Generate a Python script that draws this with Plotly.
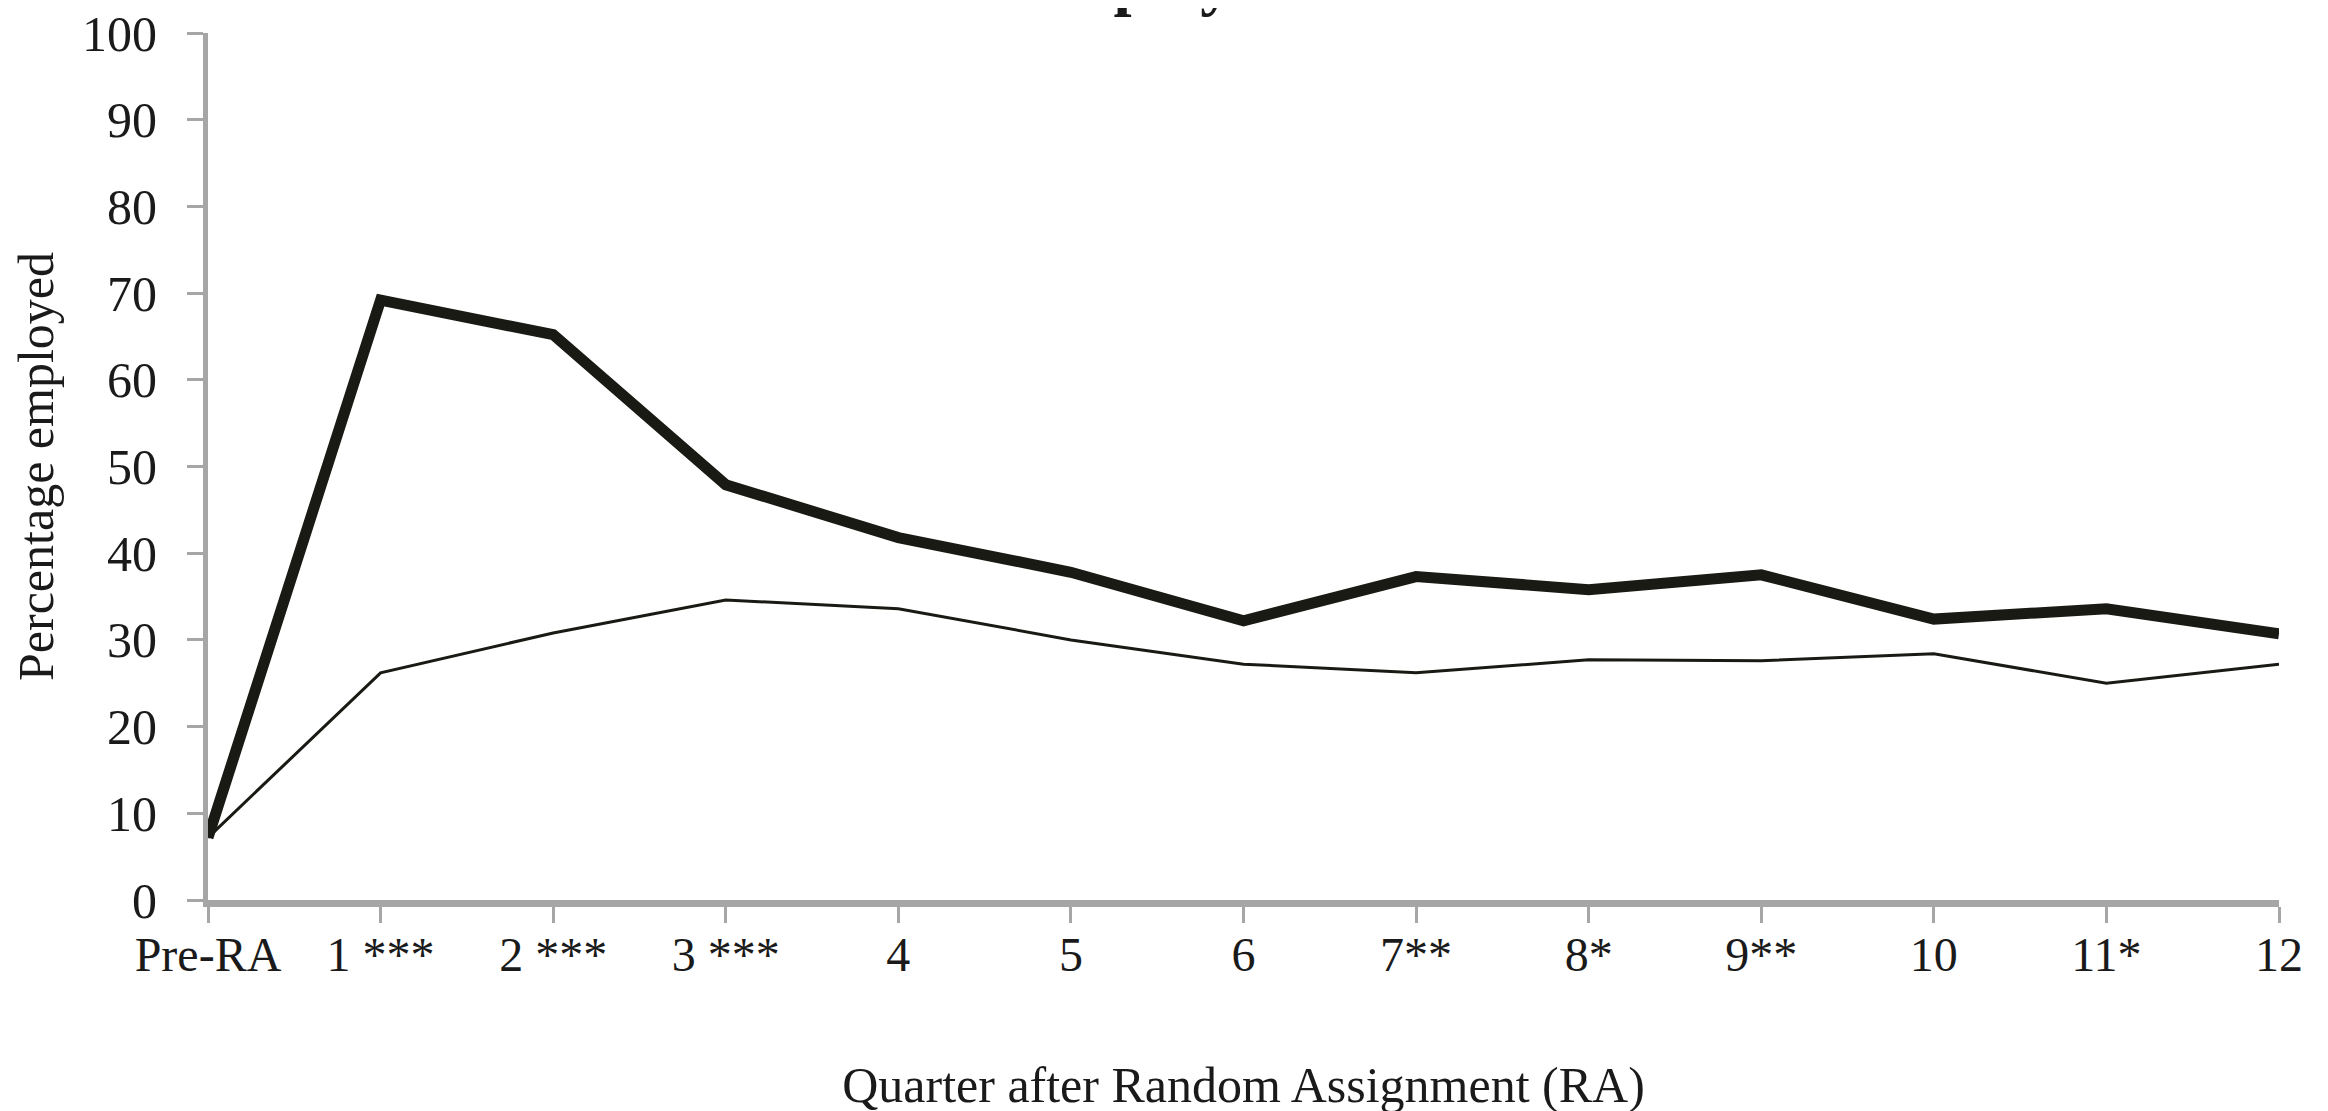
import plotly.graph_objects as go

quarters = ["Pre-RA", "1 ***", "2 ***", "3 ***", "4", "5", "6", "7**", "8*", "9**", "10", "11*", "12"]
program_group = [7.2, 69.2, 65.2, 47.9, 41.8, 37.8, 32.2, 37.3, 35.8, 37.5, 32.4, 33.6, 30.7]
control_group = [7.2, 26.2, 30.8, 34.6, 33.6, 30.0, 27.2, 26.2, 27.7, 27.6, 28.4, 25.0, 27.2]
y_ticks = [0, 10, 20, 30, 40, 50, 60, 70, 80, 90, 100]

xpos = list(range(len(quarters)))
line_color = "#1a1a14"
axis_gray = "#a6a6a6"
font_family = "Liberation Serif, Times New Roman, serif"

fig = go.Figure()
fig.add_trace(go.Scatter(x=xpos, y=control_group, mode="lines",
                         line=dict(color=line_color, width=3), name="Control group",
                         showlegend=False))
fig.add_trace(go.Scatter(x=xpos, y=program_group, mode="lines",
                         line=dict(color=line_color, width=11), name="Program group",
                         showlegend=False))

fig.update_layout(
    width=2328, height=1111,
    margin=dict(l=200, r=57, t=25, b=219, autoexpand=False),
    paper_bgcolor="white", plot_bgcolor="white",
    font=dict(family=font_family, size=48, color="#1a1a1a"),
    showlegend=False,
)

fig.update_xaxes(
    range=[0, 12], tickmode="array", tickvals=xpos, ticktext=quarters,
    showgrid=False, zeroline=False, automargin=False,
    showline=True, linecolor=axis_gray, linewidth=7, layer="below traces",
    ticks="outside", ticklen=16, tickwidth=3, tickcolor=axis_gray,
    ticklabelstandoff=-10, ticklabeloverflow="allow",
    tickfont=dict(size=48, family=font_family),
    title=dict(text="Quarter after Random Assignment (RA)",
               font=dict(size=50, family=font_family), standoff=90),
)
fig.update_yaxes(
    range=[0, 100], tickmode="array", tickvals=y_ticks,
    showgrid=False, zeroline=False, automargin=False,
    showline=True, linecolor=axis_gray, linewidth=5, layer="below traces",
    ticks="outside", ticklen=16, tickwidth=3, tickcolor=axis_gray,
    ticklabelstandoff=20, ticklabeloverflow="allow",
    tickfont=dict(size=50, family=font_family),
    title=dict(text="Percentage employed", font=dict(size=50, family=font_family), standoff=30),
)

fig.add_annotation(
    text="<b>Employment</b>", xref="paper", yref="paper",
    x=(1195 - 208) / (2279 - 208), y=1, xanchor="center", yanchor="bottom", yshift=14,
    showarrow=False, font=dict(size=65, family=font_family, color="#1a1a1a"),
)

fig.write_html("out.html")
